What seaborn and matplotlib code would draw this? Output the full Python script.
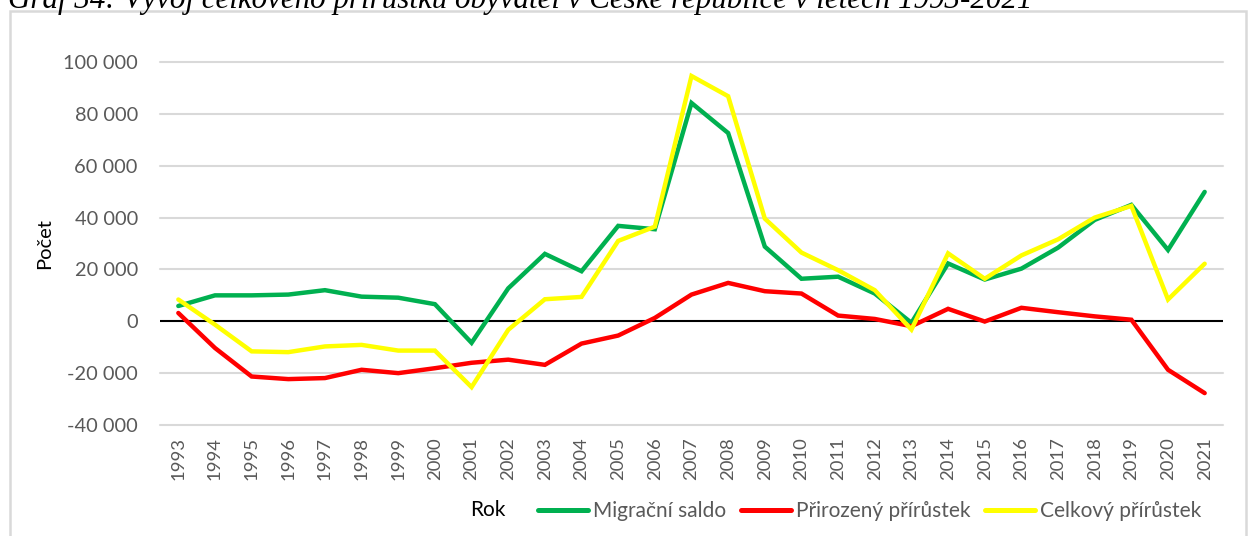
import matplotlib
matplotlib.use("Agg")
import matplotlib.pyplot as plt
import matplotlib.patches as mpatches
from matplotlib.lines import Line2D
from matplotlib.ticker import FuncFormatter
import pandas as pd
import seaborn as sns

years = list(range(1993, 2022))
migracni_saldo = [5900, 10000, 10000, 10300, 12000, 9500, 9100, 6600, -8300, 12700,
                  26000, 19300, 36800, 35500, 84200, 72600, 28800, 16400, 17200, 10700,
                  -600, 22300, 16100, 20300, 28400, 39100, 44900, 27500, 49900]
prirozeny_prirustek = [3200, -10300, -21300, -22300, -21900, -18700, -20000, -18100, -16000, -14800,
                       -16800, -8600, -5500, 1300, 10300, 14800, 11600, 10700, 2200, 900,
                       -1900, 4800, -100, 5200, 3500, 1900, 600, -18700, -27700]
celkovy_prirustek = [8400, -1300, -11600, -11900, -9700, -9100, -11300, -11300, -25400, -3300,
                     8500, 9400, 31000, 36500, 94600, 86800, 39600, 26500, 19700, 12000,
                     -3200, 26200, 16400, 25400, 31600, 40000, 44500, 8400, 22200]

series_names = ["Migrační saldo", "Přirozený přírůstek", "Celkový přírůstek"]
series_colors = ["#00B050", "#FF0000", "#FFFF00"]
y_ticks = [-40000, -20000, 0, 20000, 40000, 60000, 80000, 100000]

title = "Graf 34: Vývoj celkového přírůstku obyvatel v České republice v letech 1993-2021"

df = pd.DataFrame({
    "pos": list(range(len(years))) * 3,
    "value": migracni_saldo + prirozeny_prirustek + celkovy_prirustek,
    "series": [s for s in series_names for _ in years],
})

sns.set_style("white")
plt.rcParams["font.family"] = ["Lato", "DejaVu Sans"]

W, H = 1248, 536
fig = plt.figure(figsize=(W / 100, H / 100), dpi=100)

# outer frame of the chart area
frame = mpatches.Rectangle((9.5 / W, -0.05), (1246 - 9.5) / W, 1.05 - 11 / H,
                           transform=fig.transFigure, fill=False,
                           edgecolor="#d9d9d9", linewidth=1.8)
fig.patches.append(frame)

# caption running above the top edge of the page
fig.text(8 / W, 1 - 8 / H, title, family="Liberation Serif", style="italic",
         fontsize=22.3, va="baseline", ha="left", color="black")

ax = fig.add_axes([160 / W, 1 - 425 / H, (1223 - 160) / W, (425 - 62) / H])

for y in y_ticks:
    if y != 0:
        ax.axhline(y, color="#d9d9d9", linewidth=1.5, zorder=0, clip_on=False)
ax.axhline(0, color="black", linewidth=1.5, zorder=1)

sns.lineplot(data=df, x="pos", y="value", hue="series", hue_order=series_names,
             palette=series_colors, linewidth=3.2, legend=False, ax=ax, zorder=3)
for ln in ax.get_lines()[-3:]:
    ln.set_solid_joinstyle("miter")
    ln.set_solid_capstyle("round")

ax.set_xlim(-0.5, len(years) - 0.5)
ax.set_ylim(-40000, 100000)
ax.set_xticks(range(len(years)))
ax.set_xticklabels([str(y) for y in years], rotation=90)
ax.set_yticks(y_ticks)
ax.yaxis.set_major_formatter(FuncFormatter(lambda v, p: f"{int(v):,}".replace(",", "\u00a0")))
ax.tick_params(axis="both", length=0, labelcolor="#595959")
ax.tick_params(axis="y", pad=16, labelsize=14.4)
ax.tick_params(axis="x", pad=9, labelsize=13.3)
for s in ax.spines.values():
    s.set_visible(False)
ax.set_xlabel("")
ax.set_ylabel("Počet", fontsize=14.5, color="black", labelpad=7)

# axis title and legend along the bottom
fig.text(470 / W, 1 - 510 / H, "Rok", fontsize=15, color="black", va="center", ha="left")
handles = [Line2D([0], [0], color=c, linewidth=3.6, solid_capstyle="round") for c in series_colors]
leg = fig.legend(handles, series_names, loc="center left",
                 bbox_to_anchor=(538 / W, 1 - 511 / H), ncol=3, frameon=False,
                 fontsize=15, handlelength=2.4, handletextpad=0.25, columnspacing=0.7,
                 borderaxespad=0, borderpad=0)
for t in leg.get_texts():
    t.set_color("#595959")

fig.savefig("out.png", dpi=100)
